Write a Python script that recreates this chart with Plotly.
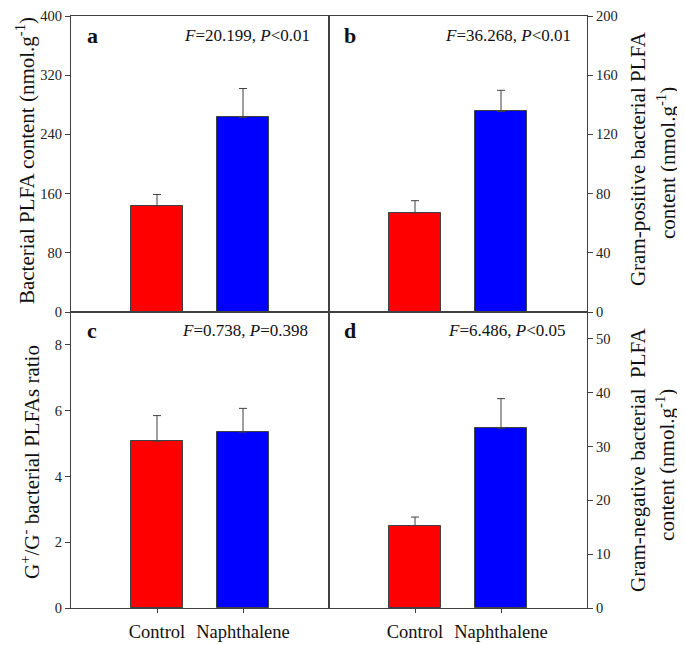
import plotly.graph_objects as go
from plotly.subplots import make_subplots

# Daten
groups = ["Control", "Naphthalene"]
bar_colors = ["#ff0000", "#0000ff"]

bact_mean = [143.5, 263.0]
bact_err = [15.3, 39.0]

gpos_mean = [67.0, 135.5]
gpos_err = [8.2, 14.3]

ratio_mean = [5.07, 5.35]
ratio_err = [0.78, 0.72]

gneg_mean = [15.3, 33.4]
gneg_err = [1.6, 5.5]

panels = [
    # (row, col, mean, err, y-range, dtick, letter, stats)
    (1, 1, bact_mean, bact_err, [0, 400], 80, "a", "<i>F</i>=20.199, <i>P</i>&lt;0.01"),
    (1, 2, gpos_mean, gpos_err, [0, 200], 40, "b", "<i>F</i>=36.268, <i>P</i>&lt;0.01"),
    (2, 1, ratio_mean, ratio_err, [0, 9], 2, "c", "<i>F</i>=0.738, <i>P</i>=0.398"),
    (2, 2, gneg_mean, gneg_err, [0, 55], 10, "d", "<i>F</i>=6.486, <i>P</i>&lt;0.05"),
]

# Achsentitel (Zeilen einzeln): (Text, x, y) in Seitenpixeln
ytitles = [
    ("Bacterial PLFA content (nmol.g<sup>-1</sup>)", 25, 155),
    ("Gram-positive bacterial PLFA", 638, 153),
    ("content (nmol.g<sup>-1</sup>)", 666, 157),
    ("G<sup>+</sup>/G<sup>-</sup> bacterial PLFAs ratio", 31, 460),
    ("Gram-negative bacterial  PLFA", 638, 458),
    ("content (nmol.g<sup>-1</sup>)", 666, 463),
]

font_serif = "Liberation Serif, Times New Roman, serif"
line_col = "#404040"

# Seite hat 8px Rand im Browser -> Figur etwas kleiner
OFF = 8
W, H = 685 - OFF, 645 - OFF
ML, MR, MT, MB = 63, 98, 0, 37
PW, PH = W - ML - MR, H - MT - MB


def px_x(px):
    return (px - OFF - ML) / PW


def px_y(py):
    return (H - MB - (py - OFF)) / PH


fig = make_subplots(rows=2, cols=2, horizontal_spacing=0, vertical_spacing=0)

for row, col, mean, err, yr, dt, letter, stats in panels:
    fig.add_trace(go.Bar(
        x=[0, 1], y=mean,
        marker=dict(color=bar_colors, line=dict(color=line_col, width=1)),
        width=0.6,
        error_y=dict(type="data", array=err, arrayminus=[0, 0], symmetric=False,
                     color=line_col, thickness=1, width=4),
        showlegend=False,
    ), row=row, col=col)

    side = "left" if col == 1 else "right"
    fig.update_yaxes(
        range=yr, dtick=dt, side=side, showgrid=False, zeroline=False,
        showline=True, linecolor=line_col, linewidth=1, mirror=True,
        ticks="outside", ticklen=5, tickcolor=line_col,
        ticklabeloverflow="allow",
        tickfont=dict(size=14.5, family=font_serif, color="#222"),
        row=row, col=col,
    )
    fig.update_xaxes(
        range=[-1, 2], showgrid=False, zeroline=False,
        showline=True, linecolor=line_col, linewidth=1, mirror=True,
        tickvals=[0, 1], ticktext=groups if row == 2 else ["", ""],
        ticks="outside" if row == 2 else "", ticklen=4, tickcolor=line_col,
        ticklabelstandoff=3,
        tickfont=dict(size=18.5, family=font_serif, color="#111"),
        row=row, col=col,
    )

# Buchstaben und Statistik
ann_pos = {
    "a": (92, 28, 312),
    "b": (350, 28, 573),
    "c": (92, 327, 310),
    "d": (350, 327, 567),
}
for row, col, mean, err, yr, dt, letter, stats in panels:
    lx, ly, sx = ann_pos[letter]
    fig.add_annotation(x=px_x(lx), y=px_y(ly), xref="paper", yref="paper",
                       text="<b>" + letter + "</b>",
                       showarrow=False, xanchor="center", yanchor="middle",
                       font=dict(size=22, family=font_serif, color="#111"))
    fig.add_annotation(x=px_x(sx), y=px_y(ly), xref="paper", yref="paper", text=stats,
                       showarrow=False, xanchor="right", yanchor="middle",
                       font=dict(size=17, family=font_serif, color="#111"))

for txt, tx, ty in ytitles:
    fig.add_annotation(x=px_x(tx), y=px_y(ty), xref="paper", yref="paper", text=txt,
                       textangle=-90, showarrow=False, xanchor="center", yanchor="middle",
                       font=dict(size=21, family=font_serif, color="#111"))

fig.update_layout(
    width=W, height=H,
    margin=dict(l=ML, r=MR, t=MT, b=MB),
    plot_bgcolor="white", paper_bgcolor="white",
    bargap=0,
)

fig.write_html("out.html")
